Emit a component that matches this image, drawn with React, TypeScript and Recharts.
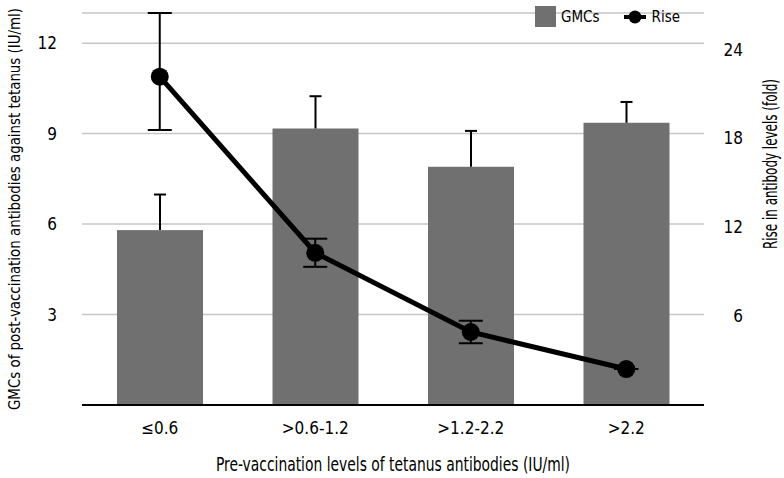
import { Bar, CartesianGrid, ComposedChart, ErrorBar, Label, Legend, Line, XAxis, YAxis } from "recharts";

const FONT = '"Liberation Sans Narrow", "DejaVu Sans Condensed", "Roboto", sans-serif';
const BAR_COLOR = "#707070";

// pre-vaccination level groups
const categories = ["≤0.6", ">0.6-1.2", ">1.2-2.2", ">2.2"];
// GMCs (left axis, IU/ml) with upper error
const gmcValues = [5.8, 9.17, 7.9, 9.36];
const gmcErrors = [1.18, 1.07, 1.19, 0.69];
// fold rise (right axis)
const riseValues = [22.17, 10.28, 4.93, 2.43];
const riseErrLow = [3.6, 0.95, 0.76, 0];
const riseErrHigh = [4.3, 0.95, 0.76, 0];

const leftTicks = [3, 6, 9, 12];
const rightTicks = [6, 12, 18, 24];

const data = categories.map((cat, i) => ({
  cat,
  gmc: gmcValues[i],
  gmcErr: gmcErrors[i],
  rise: riseValues[i],
  riseErr: [riseErrLow[i], riseErrHigh[i]],
}));

// bar with a plus-only error whisker, sized from the bar's own scale
function BarWithCap(props: any) {
  const { x, y, width, height, fill, payload } = props;
  const perUnit = payload.gmc ? height / payload.gmc : 0;
  const top = y - payload.gmcErr * perUnit;
  const cx = x + width / 2;
  return (
    <g>
      <rect x={x} y={y} width={width} height={height} fill={fill} />
      <line x1={cx} x2={cx} y1={y} y2={top} stroke="#000" strokeWidth={2} />
      <line x1={cx - 6} x2={cx + 6} y1={top} y2={top} stroke="#000" strokeWidth={2} />
    </g>
  );
}

function LegendBox() {
  return (
    <div style={{ display: "flex", alignItems: "center", fontFamily: FONT, fontSize: 15, color: "#000" }}>
      <span style={{ display: "inline-block", width: 21, height: 21, background: BAR_COLOR, marginRight: 5 }} />
      <span>GMCs</span>
      <svg width={22} height={14} style={{ marginLeft: 24, marginRight: 6 }}>
        <line x1={0} x2={22} y1={7} y2={7} stroke="#000" strokeWidth={4} />
        <circle cx={11} cy={7} r={6.5} fill="#000" />
      </svg>
      <span>Rise</span>
    </div>
  );
}

const tickStyle = { fill: "#000", fontSize: 17, fontFamily: FONT };

export default function App() {
  return (
    <div style={{ position: "absolute", left: 0, top: 0, width: 784, height: 478, background: "#fff" }}>
      <ComposedChart width={784} height={478} data={data} margin={{ top: 13, right: 0, bottom: 0, left: 0 }}>
        <CartesianGrid yAxisId="left" vertical={false} stroke="#c6c6c6" strokeWidth={1.5} />
        <XAxis
          dataKey="cat"
          height={73}
          tickLine={false}
          tickSize={0}
          tickMargin={17}
          axisLine={{ stroke: "#000", strokeWidth: 2 }}
          tick={tickStyle}
        >
          <Label
            content={(p: any) => (
              <text
                x={p.viewBox.x + p.viewBox.width / 2}
                y={465}
                textAnchor="middle"
                dominantBaseline="middle"
                fontFamily={FONT}
                fontSize={19}
                textLength={354}
                lengthAdjust="spacingAndGlyphs"
                fill="#000"
              >
                Pre-vaccination levels of tetanus antibodies (IU/ml)
              </text>
            )}
          />
        </XAxis>
        <YAxis
          yAxisId="left"
          domain={[0, 13]}
          ticks={leftTicks}
          width={82}
          axisLine={false}
          tickLine={false}
          tickSize={0}
          tickMargin={25}
          tick={tickStyle}
        >
          <Label
            content={(p: any) => {
              const cy = p.viewBox.y + p.viewBox.height / 2;
              return (
                <text
                  x={15}
                  y={cy}
                  transform={`rotate(-90 15 ${cy})`}
                  textAnchor="middle"
                  dominantBaseline="middle"
                  fontFamily={FONT}
                  fontSize={15.5}
                  textLength={402}
                  lengthAdjust="spacingAndGlyphs"
                  fill="#000"
                >
                  GMCs of post-vaccination antibodies against tetanus (IU/ml)
                </text>
              );
            }}
          />
        </YAxis>
        <YAxis
          yAxisId="right"
          orientation="right"
          domain={[0, 26]}
          ticks={rightTicks}
          width={80}
          axisLine={false}
          tickLine={false}
          tickSize={0}
          tickMargin={39}
          tick={{ ...tickStyle, textAnchor: "end" }}
        >
          <Label
            content={(p: any) => {
              const cx = p.viewBox.x + 67;
              const cy = 164;
              return (
                <text
                  x={cx}
                  y={cy}
                  transform={`rotate(-90 ${cx} ${cy})`}
                  textAnchor="middle"
                  dominantBaseline="middle"
                  fontFamily={FONT}
                  fontSize={19}
                  textLength={170}
                  lengthAdjust="spacingAndGlyphs"
                  fill="#000"
                >
                  Rise in antibody levels (fold)
                </text>
              );
            }}
          />
        </YAxis>
        <Legend
          content={<LegendBox />}
          wrapperStyle={{ top: 6, left: 535, width: "auto", height: 0, overflow: "visible" }}
        />
        <Bar
          yAxisId="left"
          dataKey="gmc"
          name="GMCs"
          fill={BAR_COLOR}
          barSize={86}
          shape={<BarWithCap />}
          isAnimationActive={false}
        />
        <Line
          yAxisId="right"
          dataKey="rise"
          name="Rise"
          stroke="#000"
          strokeWidth={5}
          dot={{ r: 9, fill: "#000", stroke: "#000", strokeWidth: 0 }}
          isAnimationActive={false}
        >
          <ErrorBar dataKey="riseErr" width={12} stroke="#000" strokeWidth={2} direction="y" />
        </Line>
      </ComposedChart>
    </div>
  );
}
